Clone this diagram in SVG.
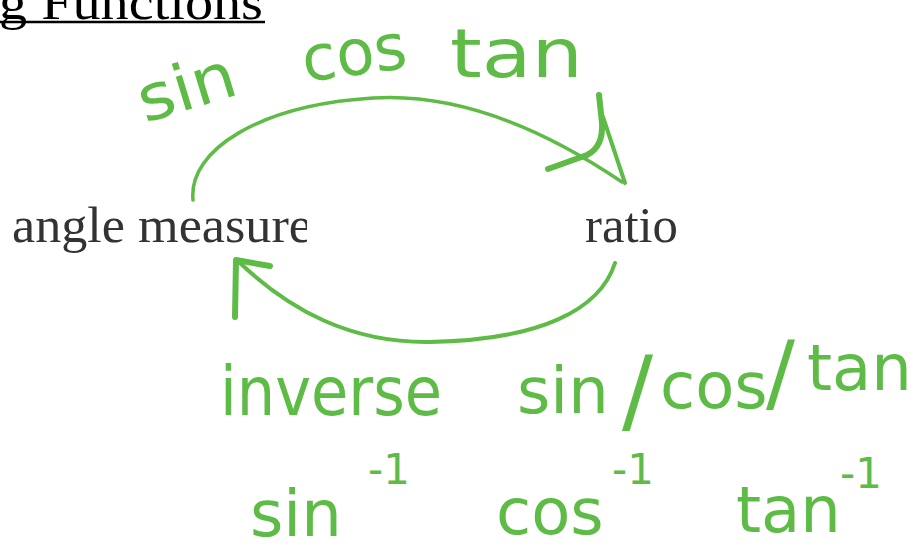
<svg xmlns="http://www.w3.org/2000/svg" width="923" height="550" viewBox="0 0 923 550">
  <style>
    .serif { font-family: "Liberation Serif", "DejaVu Serif", serif; font-size: 50px; }
    .hand { font-family: "DejaVu Sans", "Liberation Sans", sans-serif; fill: #5DBB46; }
    .ink { fill: none; stroke: #5DBB46; stroke-linecap: round; stroke-linejoin: round; }
  </style>
  <defs>
    <clipPath id="clipAngle"><rect x="0" y="180" width="307" height="80"/></clipPath>
  </defs>
  <rect width="923" height="550" fill="#ffffff"/>

  <g id="title">
    <text class="serif" x="-1" y="19" fill="#000" textLength="264" lengthAdjust="spacingAndGlyphs">g Functions</text>
    <line x1="0" y1="22" x2="265" y2="22" stroke="#000" stroke-width="2.5"/>
  </g>

  <g id="angle-measure" clip-path="url(#clipAngle)">
    <text class="serif" x="12" y="242" fill="#333" textLength="300" lengthAdjust="spacingAndGlyphs">angle measure</text>
  </g>

  <g id="ratio">
    <text class="serif" x="585" y="242" fill="#333" textLength="93" lengthAdjust="spacingAndGlyphs">ratio</text>
  </g>

  <g id="connectors">
    <path class="ink" stroke-width="3.5" d="M193,200 C188,150 260,105 373,98 C470,92 560,140 622,182"/>
    <path class="ink" stroke-width="6" d="M599,95 L602,123 C603,140 597,150 587,155 L548,169"/>
    <path class="ink" stroke-width="4" d="M603,117 L625,183"/>
    <path class="ink" stroke-width="4" d="M615,263 C600,310 540,340 430,342 C350,343 290,310 240,263"/>
    <path class="ink" stroke-width="6" d="M235,317 L236,260 L270,266"/>
  </g>

  <g id="label-forward">
    <text class="hand" x="145" y="123" font-size="64" textLength="100" lengthAdjust="spacingAndGlyphs" transform="rotate(-17 145 123)">sin</text>
    <text class="hand" x="305" y="82" font-size="64" textLength="105" lengthAdjust="spacingAndGlyphs" transform="rotate(-8 305 82)">cos</text>
    <text class="hand" x="450" y="77" font-size="68" textLength="133" lengthAdjust="spacingAndGlyphs">tan</text>
  </g>

  <g id="label-inverse">
    <text class="hand" x="220" y="415" font-size="68" textLength="222" lengthAdjust="spacingAndGlyphs">inverse</text>
    <text class="hand" font-size="64"><tspan x="517" y="413">sin</tspan><tspan x="622" y="422" font-size="92">/</tspan><tspan x="660" y="408">cos</tspan><tspan x="766" y="402" font-size="86">/</tspan><tspan x="807" y="390">tan</tspan></text>
  </g>

  <g id="label-notation">
    <text class="hand" font-size="64"><tspan x="250" y="536">sin</tspan><tspan x="368" y="484" font-size="42">-1</tspan></text>
    <text class="hand" font-size="64"><tspan x="496" y="534">cos</tspan><tspan x="612" y="484" font-size="42">-1</tspan></text>
    <text class="hand" font-size="64"><tspan x="736" y="532">tan</tspan><tspan x="840" y="488" font-size="42">-1</tspan></text>
  </g>
</svg>
